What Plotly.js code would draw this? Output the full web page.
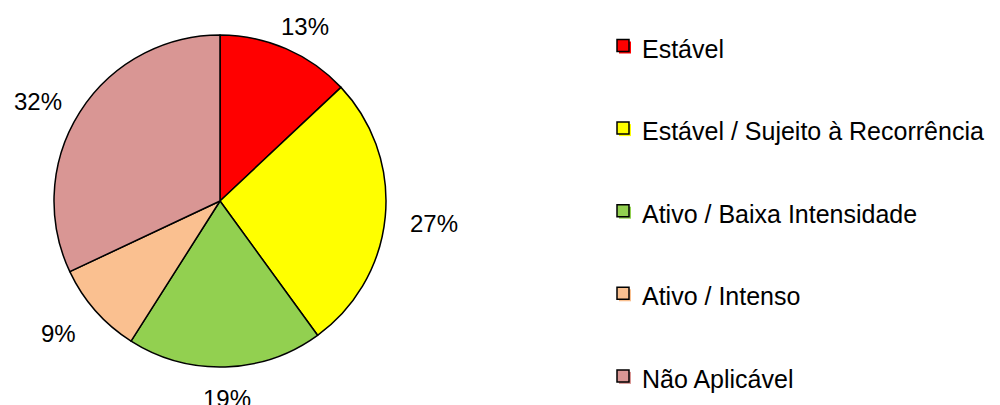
<!DOCTYPE html>
<html>
<head>
<meta charset="utf-8">
<script src="https://cdn.plot.ly/plotly-3.0.1.min.js"></script>
<style>html,body{margin:0;padding:0;background:#fff;}#chart{width:1000px;height:405px;}</style>
</head>
<body>
<div id="chart"></div>
<script>
var categories = ["Estável", "Estável / Sujeito à Recorrência", "Ativo / Baixa Intensidade", "Ativo / Intenso", "Não Aplicável"];
var values = [13, 27, 19, 9, 32];
var colors = ["#FF0000", "#FFFF00", "#92D050", "#FAC090", "#D99694"];

var W = 1000, H = 405;
var FONT = "Arial, 'Liberation Sans', sans-serif";
var cx = 220, cy = 201, R = 166;

var trace = {
  type: "pie",
  labels: categories,
  values: values,
  sort: false,
  direction: "clockwise",
  rotation: 0,
  textinfo: "none",
  hoverinfo: "label+percent",
  marker: {colors: colors, line: {color: "#000000", width: 1.5}},
  domain: {x: [(cx - R) / W, (cx + R) / W], y: [(H - cy - R) / H, (H - cy + R) / H]},
  showlegend: false
};

var annotations = [];
var shapes = [];
var total = values.reduce(function(a, b){ return a + b; }, 0);
var cum = 0;
var labRx = R + 49, labRy = R + 28;
for (var i = 0; i < values.length; i++) {
  var mid = (cum + values[i] / 2) / total * 2 * Math.PI;
  cum += values[i];
  var s = Math.sin(mid), c = Math.cos(mid);
  var px = cx + labRx * s, py = cy - labRy * c + 4;
  annotations.push({
    x: px / W, y: 1 - py / H, xref: "paper", yref: "paper",
    xanchor: "center", yanchor: "middle", showarrow: false,
    text: Math.round(values[i] / total * 100) + "%",
    font: {family: FONT, size: 24, color: "#000000"}
  });
}

// custom legend
var legTop = 48.5, legStep = 82.6, boxX = 617, boxS = 12, textX = 640;
for (var j = 0; j < categories.length; j++) {
  var yc = legTop + j * legStep;
  var by = yc - 9;
  shapes.push({type: "rect", xref: "paper", yref: "paper",
    x0: (boxX + 2) / W, x1: (boxX + 2 + boxS) / W, y0: 1 - (by + 2 + boxS) / H, y1: 1 - (by + 2) / H,
    fillcolor: colors[j], line: {width: 0}});
  shapes.push({type: "rect", xref: "paper", yref: "paper",
    x0: boxX / W, x1: (boxX + boxS) / W, y0: 1 - (by + boxS) / H, y1: 1 - by / H,
    fillcolor: colors[j], line: {color: "#000000", width: 1.5}});
  annotations.push({
    x: textX / W, y: 1 - yc / H, xref: "paper", yref: "paper",
    xanchor: "left", yanchor: "middle", showarrow: false,
    text: categories[j],
    font: {family: FONT, size: 25, color: "#000000"}
  });
}

var layout = {
  width: W, height: H,
  margin: {l: 0, r: 0, t: 0, b: 0},
  paper_bgcolor: "#ffffff",
  plot_bgcolor: "#ffffff",
  showlegend: false,
  annotations: annotations,
  shapes: shapes
};

Plotly.newPlot("chart", [trace], layout, {displayModeBar: false, staticPlot: true});
</script>
</body>
</html>
